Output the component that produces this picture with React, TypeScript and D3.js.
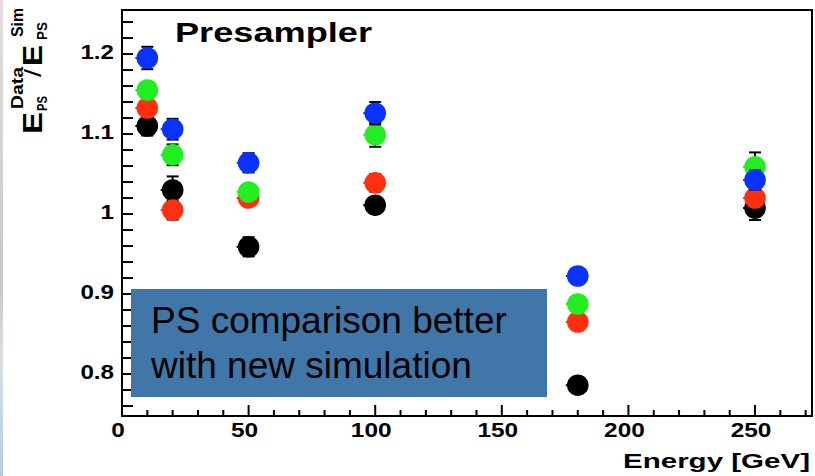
import React from "react";
import * as d3 from "d3";

const energies = [10, 20, 50, 100, 180, 250];
const seriesNames = ["black", "red", "green", "blue"];
const blackVals = [1.11, 1.03, 0.959, 1.011, 0.786, 1.0075];
const blackErr = [0.012, 0.017, 0.012, 0.01, 0.002, 0.015];
const redVals = [1.1325, 1.005, 1.02, 1.039, 0.865, 1.02];
const redErr = [0.008, 0.012, 0.008, 0.011, 0.002, 0.013];
const greenVals = [1.155, 1.074, 1.0275, 1.099, 0.8875, 1.059];
const greenErr = [0.01, 0.013, 0.009, 0.015, 0.002, 0.018];
const blueVals = [1.195, 1.106, 1.064, 1.126, 0.9225, 1.0425];
const blueErr = [0.014, 0.013, 0.012, 0.014, 0.002, 0.012];
const yTickLabels = ["0.8", "0.9", "1", "1.1", "1.2"];
const xTickLabels = ["0", "50", "100", "150", "200", "250"];

const colors: Record<string, string> = {
  black: "#000000",
  red: "#ff3010",
  green: "#22ee22",
  blue: "#0a32ff",
};

const FONT = "'Liberation Sans', Arial, Helvetica, sans-serif";

export default function App() {
  const W = 815;
  const H = 476;
  const x = d3.scaleLinear().domain([0, 272.5]).range([122, 812]);
  const y = d3.scaleLinear().domain([0.7475, 1.255]).range([416, 10]);

  const series = [
    { name: "black", vals: blackVals, err: blackErr },
    { name: "red", vals: redVals, err: redErr },
    { name: "green", vals: greenVals, err: greenErr },
    { name: "blue", vals: blueVals, err: blueErr },
  ];

  const yMinor = d3.range(0.76, 1.2401, 0.02);
  const xMinor = d3.range(0, 271, 10);

  return (
    <svg
      width={W}
      height={H}
      style={{ position: "absolute", left: 0, top: 0, background: "#fff" }}
    >
      <defs>
        <linearGradient id="strip" x1="0" y1="0" x2="0" y2="1">
          <stop offset="0" stopColor="#e2dede" />
          <stop offset="0.6" stopColor="#c8c8c8" />
          <stop offset="0.75" stopColor="#d8e0e4" />
          <stop offset="1" stopColor="#b4cde2" />
        </linearGradient>
      </defs>
      <rect x={0} y={0} width={W} height={H} fill="#fff" />
      <rect x={0} y={0} width={3} height={H} fill="url(#strip)" />

      {/* frame */}
      <rect x={122} y={10} width={690} height={406} fill="none" stroke="#000" strokeWidth={2} />

      {/* y ticks */}
      {yMinor.map((v, i) => (
        <line key={"yt" + i} x1={122} x2={133} y1={y(v)} y2={y(v)} stroke="#000" strokeWidth={2} />
      ))}
      {yTickLabels.map((t) => (
        <text
          key={"yl" + t}
          transform={`translate(114,${y(+t) + 5}) scale(1.15,1)`}
          textAnchor="end"
          fontFamily={FONT}
          fontWeight="bold"
          fontSize={21}
        >
          {t}
        </text>
      ))}

      {/* x ticks */}
      {xMinor.map((v, i) => (
        <line
          key={"xt" + i}
          x1={x(v)}
          x2={x(v)}
          y1={416}
          y2={v % 50 === 0 ? 405 : 410}
          stroke="#000"
          strokeWidth={2}
        />
      ))}
      {xTickLabels.map((t) => (
        <text
          key={"xl" + t}
          transform={`translate(${x(+t) - 4},437) scale(1.22,1)`}
          textAnchor="middle"
          fontFamily={FONT}
          fontWeight="bold"
          fontSize={20}
        >
          {t}
        </text>
      ))}

      {/* data */}
      {series.map((s) =>
        energies.map((e, i) => {
          const cx = x(e);
          const cy = y(s.vals[i]);
          const y1 = y(s.vals[i] + s.err[i]);
          const y2 = y(s.vals[i] - s.err[i]);
          return (
            <g key={s.name + e}>
              <line x1={cx} x2={cx} y1={y1} y2={y2} stroke="#000" strokeWidth={2} />
              <line x1={cx - 6} x2={cx + 6} y1={y1} y2={y1} stroke="#000" strokeWidth={2} />
              <line x1={cx - 6} x2={cx + 6} y1={y2} y2={y2} stroke="#000" strokeWidth={2} />
              <line x1={cx - 12} x2={cx} y1={cy} y2={cy} stroke={colors[s.name]} strokeWidth={2} />
              <circle cx={cx} cy={cy} r={10.8} fill={colors[s.name]} />
            </g>
          );
        })
      )}

      {/* title */}
      <text
        x={175}
        y={42}
        fontFamily={FONT}
        fontWeight="bold"
        fontSize={28}
        textLength={197}
        lengthAdjust="spacingAndGlyphs"
      >
        Presampler
      </text>

      {/* x axis title */}
      <text
        x={623}
        y={468}
        fontFamily={FONT}
        fontWeight="bold"
        fontSize={21}
        textLength={187}
        lengthAdjust="spacingAndGlyphs"
      >
        Energy [GeV]
      </text>

      {/* y axis title */}
      <g transform="translate(42,135) rotate(-90)" fontFamily={FONT} fontWeight="bold">
        <text x={1} y={0} fontSize={27} textLength={22} lengthAdjust="spacingAndGlyphs">E</text>
        <text x={24} y={5} fontSize={15} textLength={15} lengthAdjust="spacingAndGlyphs">PS</text>
        <text x={26} y={-19} fontSize={17} textLength={42} lengthAdjust="spacingAndGlyphs">Data</text>
        <text x={58} y={-1} fontSize={24} fontWeight="normal" textLength={8} lengthAdjust="spacingAndGlyphs">/</text>
        <text x={69} y={0} fontSize={27} textLength={21} lengthAdjust="spacingAndGlyphs">E</text>
        <text x={95} y={5} fontSize={15} textLength={18} lengthAdjust="spacingAndGlyphs">PS</text>
        <text x={98} y={-19} fontSize={17} textLength={29} lengthAdjust="spacingAndGlyphs">Sim</text>
      </g>

      {/* annotation box */}
      <rect x={131} y={289} width={416} height={108} fill="#4176a9" />
      <text x={151} y={333} fontFamily={FONT} fontSize={37} fill="#000">
        PS comparison better
      </text>
      <text x={151} y={378} fontFamily={FONT} fontSize={37} fill="#000">
        with new simulation
      </text>
    </svg>
  );
}
